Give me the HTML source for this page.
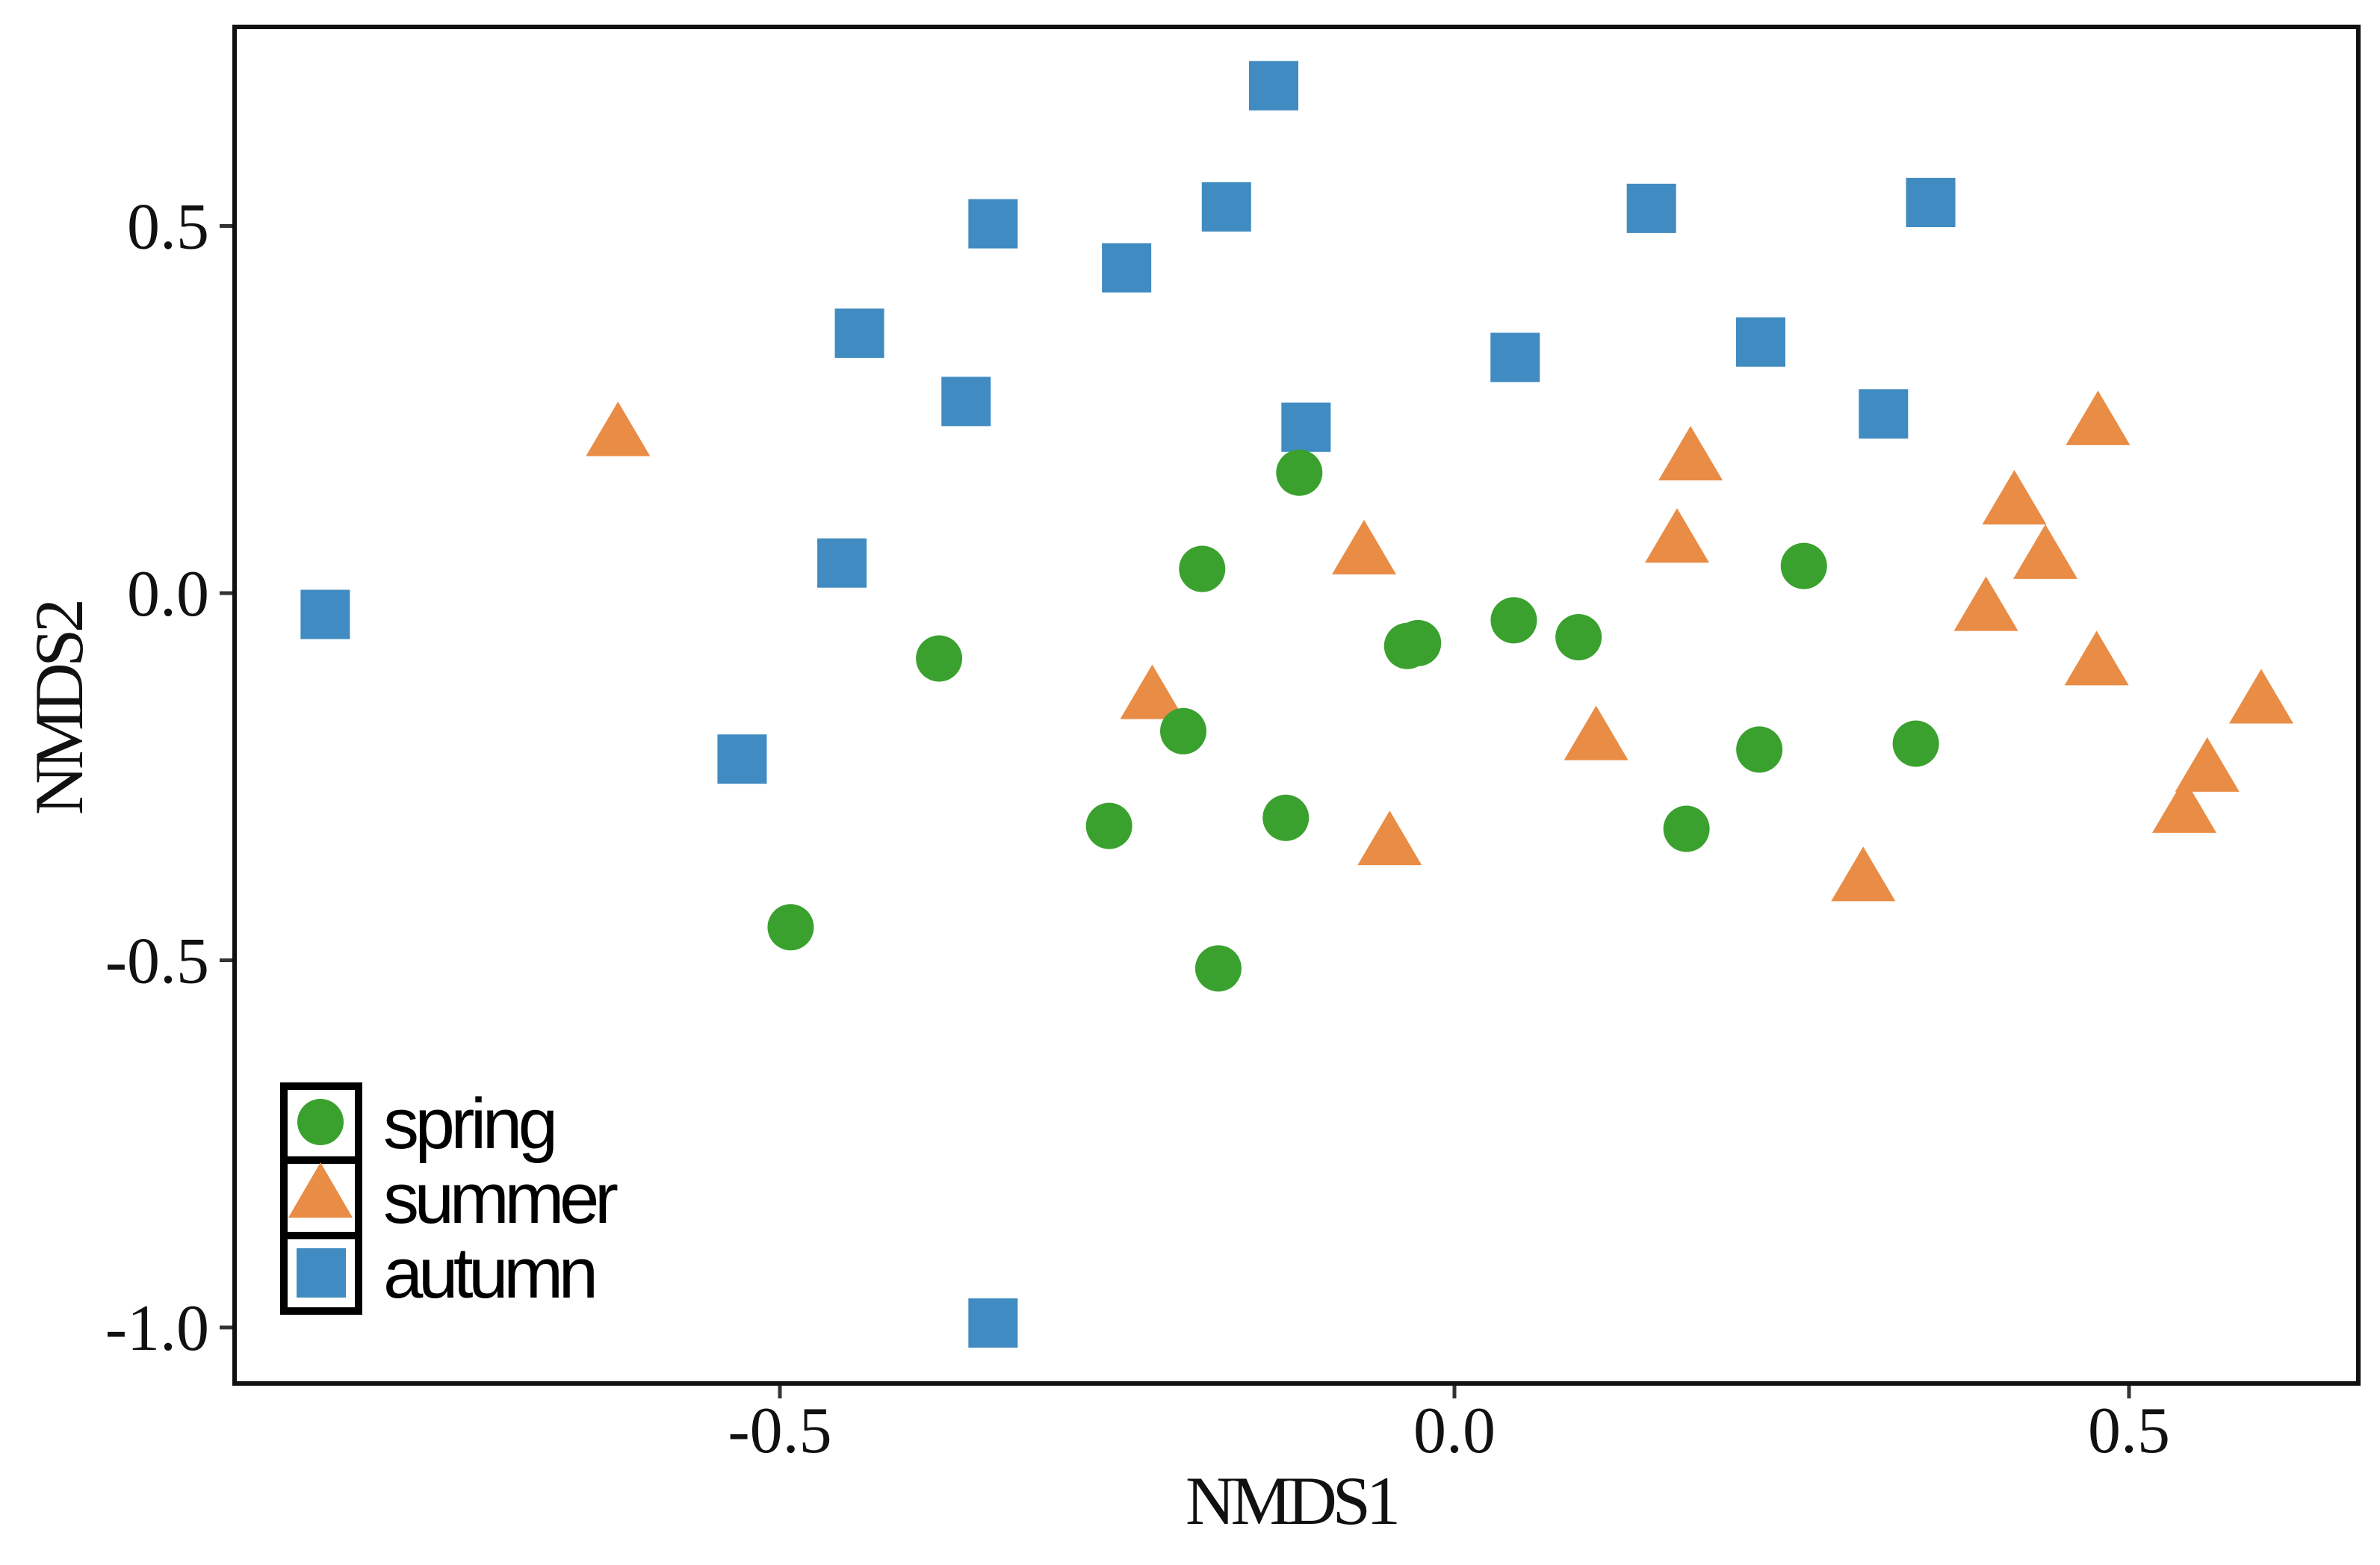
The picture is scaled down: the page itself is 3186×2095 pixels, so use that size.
<!DOCTYPE html>
<html><head><meta charset="utf-8"><style>
html,body{margin:0;padding:0;background:#fff;}
svg{display:block;}
</style></head><body>
<svg id="chart" width="3186" height="2095" viewBox="0 0 3186 2095" xmlns="http://www.w3.org/2000/svg">
<rect x="0" y="0" width="3186" height="2095" fill="#fff"/>
<g id="marks"></g>
<rect x="314" y="36" width="2843" height="1816" fill="none" stroke="#111" stroke-width="6"/>
<g id="axes"></g>
<text x="1731" y="2040" font-family="Liberation Serif, serif" font-size="92" text-anchor="middle" textLength="288" fill="#111">NMDS1</text>
<text transform="translate(110,946) rotate(-90)" font-family="Liberation Serif, serif" font-size="92" text-anchor="middle" textLength="290" fill="#111">NMDS2</text>
<g>
<rect x="380" y="1454" width="100" height="301" fill="#fff" stroke="#000" stroke-width="10"/>
<line x1="380" y1="1553" x2="480" y2="1553" stroke="#000" stroke-width="10"/>
<line x1="380" y1="1654" x2="480" y2="1654" stroke="#000" stroke-width="10"/>
<circle cx="429" cy="1502" r="31" fill="#3aa12f"/>
<polygon points="429,1556 472,1630 386,1630" fill="#e98c45"/>
<rect x="397" y="1671" width="66" height="66" fill="#408bc1"/>
<text x="513" y="1537" font-family="Liberation Sans, sans-serif" font-size="96" textLength="234" fill="#000">spring</text>
<text x="513" y="1637" font-family="Liberation Sans, sans-serif" font-size="96" textLength="315" fill="#000">summer</text>
<text x="513" y="1737" font-family="Liberation Sans, sans-serif" font-size="96" textLength="288" fill="#000">autumn</text>
</g>
</svg>
<script>
const xTicks = [-0.5, 0.0, 0.5];
const yTicks = [-1.0, -0.5, 0.0, 0.5];
const xTickLabels = ["-0.5", "0.0", "0.5"];
const yTickLabels = ["-1.0", "-0.5", "0.0", "0.5"];
const springX = [-0.115, -0.187, -0.382, -0.201, -0.256, -0.125, -0.492, -0.175, -0.035, -0.027, 0.044, 0.092, 0.259, 0.226, 0.172, 0.342];
const springY = [0.164, 0.033, -0.089, -0.188, -0.317, -0.306, -0.455, -0.511, -0.072, -0.068, -0.037, -0.060, 0.037, -0.213, -0.321, -0.205];
const summerX = [-0.620, -0.067, -0.224, 0.175, 0.165, 0.105, -0.048, 0.303, 0.477, 0.415, 0.438, 0.394, 0.476, 0.598, 0.558, 0.541];
const summerY = [0.215, 0.054, -0.143, 0.182, 0.070, -0.199, -0.342, -0.391, 0.230, 0.122, 0.048, -0.023, -0.097, -0.149, -0.242, -0.298];
const autumnX = [-0.134, -0.342, -0.169, -0.243, -0.441, -0.362, -0.110, -0.454, -0.837, -0.528, -0.342, 0.045, 0.146, 0.227, 0.353, 0.318];
const autumnY = [0.691, 0.503, 0.526, 0.443, 0.354, 0.261, 0.226, 0.041, -0.029, -0.226, -0.994, 0.321, 0.524, 0.342, 0.532, 0.244];

const NS = "http://www.w3.org/2000/svg";
function sx(v){ return 1947 + v * 1806; }
function sy(v){ return 794 - v * 983; }
const marks = document.getElementById('marks');
const axes = document.getElementById('axes');

xTicks.forEach((t, i) => {
  const l = document.createElementNS(NS, 'line');
  l.setAttribute('x1', sx(t)); l.setAttribute('x2', sx(t));
  l.setAttribute('y1', 1855); l.setAttribute('y2', 1872);
  l.setAttribute('stroke', '#333'); l.setAttribute('stroke-width', 5);
  
  
  axes.appendChild(l);
  const tx = document.createElementNS(NS, 'text');
  tx.setAttribute('x', sx(t)); tx.setAttribute('y', 1944);
  tx.setAttribute('text-anchor', 'middle');
  tx.setAttribute('font-family', 'Liberation Serif, serif');
  tx.setAttribute('font-size', 88);
  tx.setAttribute('fill', '#111');
  tx.textContent = xTickLabels[i];
  
  
  axes.appendChild(tx);
});
yTicks.forEach((t, i) => {
  const l = document.createElementNS(NS, 'line');
  l.setAttribute('x1', 294); l.setAttribute('x2', 311);
  l.setAttribute('y1', sy(t)); l.setAttribute('y2', sy(t));
  l.setAttribute('stroke', '#333'); l.setAttribute('stroke-width', 5);
  
  
  axes.appendChild(l);
  const tx = document.createElementNS(NS, 'text');
  tx.setAttribute('x', 280); tx.setAttribute('y', sy(t) + 30);
  tx.setAttribute('text-anchor', 'end');
  tx.setAttribute('font-family', 'Liberation Serif, serif');
  tx.setAttribute('font-size', 88);
  tx.setAttribute('fill', '#111');
  tx.textContent = yTickLabels[i];
  
  
  axes.appendChild(tx);
});

autumnX.forEach((v, i) => {
  const r = document.createElementNS(NS, 'rect');
  r.setAttribute('x', sx(v) - 33); r.setAttribute('y', sy(autumnY[i]) - 33);
  r.setAttribute('width', 66); r.setAttribute('height', 66);
  r.setAttribute('fill', '#408bc1');
  
  
  marks.appendChild(r);
});
summerX.forEach((v, i) => {
  const cx = sx(v), cy = sy(summerY[i]);
  const p = document.createElementNS(NS, 'polygon');
  p.setAttribute('points', `${cx},${cy-45} ${cx+43},${cy+28} ${cx-43},${cy+28}`);
  p.setAttribute('fill', '#e98c45');
  
  
  marks.appendChild(p);
});
springX.forEach((v, i) => {
  const c = document.createElementNS(NS, 'circle');
  c.setAttribute('cx', sx(v)); c.setAttribute('cy', sy(springY[i]));
  c.setAttribute('r', 31);
  c.setAttribute('fill', '#3aa12f');
  
  
  marks.appendChild(c);
});
</script>
</body></html>
